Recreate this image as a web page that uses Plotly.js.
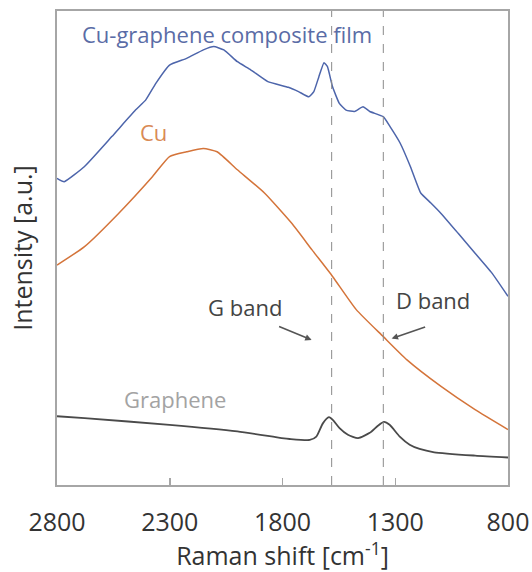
<!DOCTYPE html>
<html>
<head>
<meta charset="utf-8">
<script src="https://cdn.plot.ly/plotly-3.0.1.min.js"></script>
<style>html,body{margin:0;padding:0;background:#fff}#chart{width:532px;height:572px}</style>
</head>
<body>
<div id="chart"></div>
<script>
// Raman shift (cm^-1) and intensity (a.u.)
var compositeX = [2800, 2768, 2678, 2557, 2452, 2407, 2361, 2301, 2225, 2151, 2105, 2060, 2000, 1941, 1865, 1774, 1729, 1683, 1661, 1639, 1616, 1601, 1578, 1548, 1518, 1481, 1443, 1413, 1353, 1323, 1278, 1233, 1187, 1142, 1097, 1021, 946, 871, 800];
var compositeY = [64.7, 64.0, 67.2, 73.5, 79.1, 81.2, 84.8, 88.6, 90.0, 91.8, 92.5, 91.8, 89.3, 87.6, 85.1, 83.9, 83.0, 81.9, 83.0, 86.1, 89.1, 88.3, 84.0, 80.5, 79.1, 78.8, 79.8, 78.8, 77.7, 75.6, 72.1, 67.2, 61.6, 59.5, 57.3, 53.1, 48.9, 44.7, 39.8];

var cuX = [2800, 2678, 2527, 2376, 2301, 2225, 2151, 2090, 2000, 1880, 1759, 1669, 1578, 1473, 1353, 1248, 1097, 946, 800];
var cuY = [46.4, 50.3, 57.3, 65.1, 69.3, 70.3, 71.0, 70.3, 66.5, 61.6, 55.2, 49.6, 44.0, 37.0, 31.3, 26.4, 20.8, 15.9, 11.7];

var grapheneX = [2800, 2678, 2301, 2000, 1804, 1768, 1679, 1650, 1621, 1594, 1576, 1547, 1510, 1465, 1413, 1377, 1350, 1325, 1280, 1236, 1192, 1127, 946, 800];
var grapheneY = [14.5, 14.1, 12.7, 11.3, 9.9, 9.7, 9.5, 10.2, 13.0, 14.3, 13.7, 12.0, 10.6, 9.9, 11.0, 12.5, 13.3, 12.7, 10.2, 8.5, 7.6, 6.9, 6.2, 5.8];

var bandNames = ["G band", "D band"];
var bandPositions = [1582, 1353];
var tickValues = [2800, 2300, 1800, 1300, 800];
var tickLabels = ["2800", "2300", "1800", "1300", "800"];

var FONT = "Open Sans, sans-serif";

var traces = [
  {x: compositeX, y: compositeY, mode: "lines", name: "Cu-graphene composite film",
   line: {color: "#4d65ab", width: 1.5, shape: "spline", smoothing: 0.4}},
  {x: cuX, y: cuY, mode: "lines", name: "Cu",
   line: {color: "#d4743a", width: 1.5, shape: "spline", smoothing: 0.5}},
  {x: grapheneX, y: grapheneY, mode: "lines", name: "Graphene",
   line: {color: "#4a4a4a", width: 1.8, shape: "spline", smoothing: 0.6}}
];

var shapes = bandPositions.map(function (p) {
  return {type: "line", xref: "x", yref: "paper", x0: p, x1: p, y0: 0, y1: 1,
          line: {color: "#8a8a8a", width: 1, dash: "dash"}};
});

var annotations = [
  {x: 2048, y: 95.2, xref: "x", yref: "y", text: "Cu-graphene composite film", showarrow: false,
   font: {family: FONT, size: 22, color: "#5a6ca6"}},
  {x: 2371, y: 74.5, xref: "x", yref: "y", text: "Cu", showarrow: false,
   font: {family: FONT, size: 22, color: "#d98a55"}},
  {x: 2277, y: 18.2, xref: "x", yref: "y", text: "Graphene", showarrow: false,
   font: {family: FONT, size: 22, color: "#a3a3a3"}},
  {x: 1968, y: 37.6, xref: "x", yref: "y", text: bandNames[0], showarrow: false,
   font: {family: FONT, size: 22, color: "#444"}},
  {x: 1134, y: 39.1, xref: "x", yref: "y", text: bandNames[1], showarrow: false,
   font: {family: FONT, size: 22, color: "#444"}},
  {x: 1671, y: 30.6, xref: "x", yref: "y", text: "", showarrow: true, ax: -34, ay: -14,
   arrowhead: 2, arrowsize: 0.8, arrowwidth: 1.6, arrowcolor: "#555", standoff: 0},
  {x: 1316, y: 30.9, xref: "x", yref: "y", text: "", showarrow: true, ax: 35, ay: -12,
   arrowhead: 2, arrowsize: 0.8, arrowwidth: 1.6, arrowcolor: "#555", standoff: 0}
];

var layout = {
  width: 532, height: 572,
  margin: {l: 57, r: 24, t: 11, b: 87},
  paper_bgcolor: "#fff", plot_bgcolor: "#fff",
  showlegend: false,
  font: {family: FONT, color: "#333"},
  xaxis: {
    range: [2800, 800], tickvals: tickValues, ticktext: tickLabels,
    showgrid: false, zeroline: false,
    showline: true, mirror: true, linecolor: "#a6a6a6", linewidth: 2,
    ticks: "inside", ticklen: 7, tickwidth: 1.5, tickcolor: "#a6a6a6",
    tickfont: {family: FONT, size: 25, color: "#333"},
    ticklabelstandoff: 14,
    title: {text: "Raman shift [cm<sup>-1</sup>]", font: {family: FONT, size: 25, color: "#333"}, standoff: 3}
  },
  yaxis: {
    range: [0, 100], showticklabels: false, ticks: "",
    showgrid: false, zeroline: false,
    showline: true, mirror: true, linecolor: "#a6a6a6", linewidth: 2,
    title: {text: "Intensity [a.u.]", font: {family: FONT, size: 25, color: "#333"}, standoff: 15}
  },
  shapes: shapes,
  annotations: annotations
};

Plotly.newPlot("chart", traces, layout, {displayModeBar: false, staticPlot: true});
</script>
</body>
</html>
